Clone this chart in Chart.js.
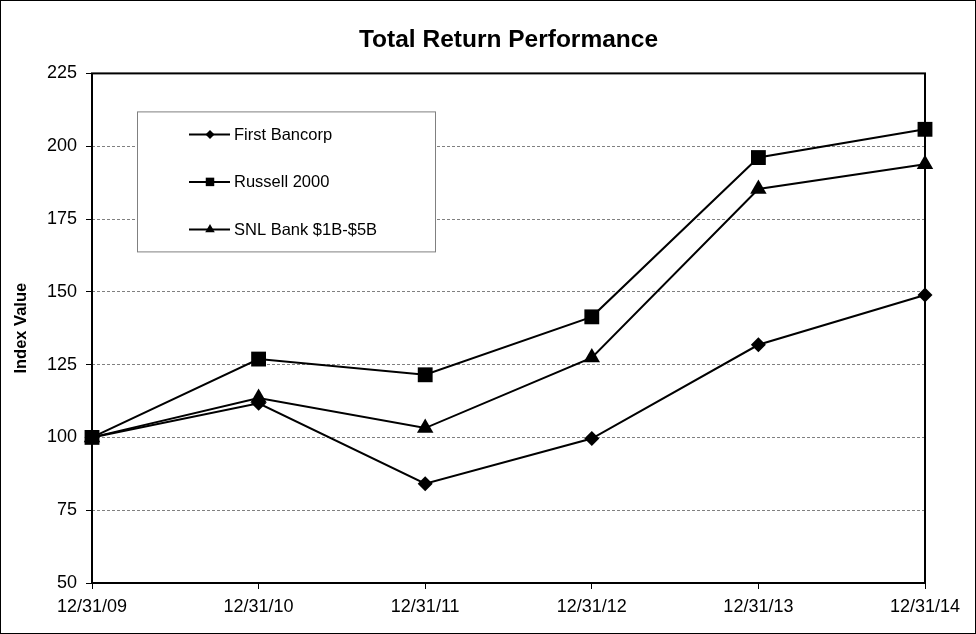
<!DOCTYPE html>
<html>
<head>
<meta charset="utf-8">
<script src="https://cdn.jsdelivr.net/npm/chart.js@4/dist/chart.umd.min.js"></script>
<style>
  html, body { margin: 0; padding: 0; background: #fff; }
  canvas { display: block; }
</style>
</head>
<body>
<canvas id="c" width="976" height="634"></canvas>
<script>
const categories = ['12/31/09', '12/31/10', '12/31/11', '12/31/12', '12/31/13', '12/31/14'];
const firstBancorp = [100, 111.7, 84.1, 99.6, 131.8, 148.9];
const russell2000 = [100, 126.9, 121.5, 141.4, 196.1, 205.8];
const snlBank = [100, 113.5, 103.2, 127.4, 185.3, 193.8];
const seriesNames = ['First Bancorp', 'Russell 2000', 'SNL Bank $1B-$5B'];
const yMin = 50, yMax = 225, yStep = 25;

const FONT = 'Arial, "Liberation Sans", sans-serif';

function markerPath(ctx, style, x, y, r) {
  ctx.beginPath();
  if (style === 'rectRot') {
    ctx.moveTo(x, y - r); ctx.lineTo(x + r, y); ctx.lineTo(x, y + r); ctx.lineTo(x - r, y);
  } else if (style === 'rect') {
    const h = r * Math.SQRT1_2;
    ctx.rect(x - h, y - h, 2 * h, 2 * h);
  } else if (style === 'triangle') {
    ctx.moveTo(x, y - r);
    ctx.lineTo(x + r * Math.sin(Math.PI / 3), y + r / 2);
    ctx.lineTo(x - r * Math.sin(Math.PI / 3), y + r / 2);
  }
  ctx.closePath();
  ctx.fill();
}

const framePlugin = {
  id: 'frame',
  beforeDraw(chart) {
    const ctx = chart.ctx;
    ctx.save();
    ctx.fillStyle = '#fff';
    ctx.fillRect(0, 0, chart.width, chart.height);
    ctx.restore();
  },
  beforeDatasetsDraw(chart) {
    const ctx = chart.ctx, a = chart.chartArea;
    ctx.save();
    ctx.strokeStyle = '#000';
    ctx.lineWidth = 2;
    ctx.strokeRect(a.left, a.top, a.right - a.left, a.bottom - a.top);
    ctx.restore();
  },
  afterDatasetsDraw(chart) {
    const ctx = chart.ctx, a = chart.chartArea;
    const bx = a.left + 45, by = a.top + 38, bw = 298, bh = 140;
    ctx.save();
    ctx.fillStyle = '#fff';
    ctx.fillRect(bx, by, bw, bh);
    ctx.strokeStyle = '#808080';
    ctx.lineWidth = 1;
    ctx.strokeRect(bx + 0.5, by + 0.5, bw, bh);
    const legendR = [4.5, 6, 5.5];
    chart.data.datasets.forEach((ds, i) => {
      const ry = by + 23 + i * 47.5;
      ctx.strokeStyle = '#000';
      ctx.lineWidth = 2;
      ctx.beginPath();
      ctx.moveTo(bx + 52, ry);
      ctx.lineTo(bx + 93, ry);
      ctx.stroke();
      ctx.fillStyle = '#000';
      markerPath(ctx, ds.pointStyle, bx + 73, ry, legendR[i]);
      ctx.font = '16.5px ' + FONT;
      ctx.textBaseline = 'middle';
      ctx.textAlign = 'left';
      ctx.fillText(ds.label, bx + 97, ry + 1);
    });
    ctx.restore();
  },
  afterDraw(chart) {
    const ctx = chart.ctx;
    ctx.save();
    ctx.strokeStyle = '#000';
    ctx.lineWidth = 1;
    ctx.strokeRect(0.5, 0.5, chart.width - 1, chart.height - 1);
    ctx.restore();
  }
};

function ds(label, data, style, r) {
  return {
    label, data,
    borderColor: '#000', backgroundColor: '#000',
    borderWidth: 2,
    pointStyle: style, pointRadius: r, pointHoverRadius: r,
    pointBackgroundColor: '#000', pointBorderColor: '#000', pointBorderWidth: 0,
    tension: 0, clip: false, fill: false
  };
}

new Chart(document.getElementById('c'), {
  type: 'line',
  data: {
    labels: categories,
    datasets: [
      ds(seriesNames[0], firstBancorp, 'rectRot', 7.5),
      ds(seriesNames[1], russell2000, 'rect', 10.5),
      ds(seriesNames[2], snlBank, 'triangle', 9.5)
    ]
  },
  options: {
    responsive: false,
    animation: false,
    devicePixelRatio: 1,
    layout: { padding: { left: 0, right: 51, top: 0, bottom: 0 } },
    plugins: {
      legend: { display: false },
      tooltip: { enabled: false },
      title: {
        display: true,
        text: 'Total Return Performance',
        color: '#000',
        fullSize: false,
        font: { family: FONT, size: 24.5, weight: 'bold', lineHeight: 1.2 },
        padding: { top: 26, bottom: 18 }
      }
    },
    scales: {
      x: {
        type: 'category',
        offset: false,
        grid: { drawOnChartArea: false, drawTicks: true, tickLength: 6, tickColor: '#000', tickWidth: 1 },
        border: { display: false },
        ticks: { color: '#000', font: { family: FONT, size: 18 }, padding: 7, maxRotation: 0, autoSkip: false },
        afterFit(s) { s.height = 51; }
      },
      y: {
        min: yMin, max: yMax,
        grid: { color: '#808080', lineWidth: 1, drawTicks: true, tickLength: 6, tickColor: '#000', tickWidth: 1 },
        border: { display: false, dash: [3, 2] },
        ticks: { stepSize: yStep, color: '#000', font: { family: FONT, size: 18 }, padding: 9 },
        title: {
          display: true, text: 'Index Value', color: '#000',
          font: { family: FONT, size: 16.5, weight: 'bold', lineHeight: 1.2 },
          padding: { top: 12, bottom: 0 }
        },
        afterFit(s) { s.width = 92; }
      }
    }
  },
  plugins: [framePlugin]
});
</script>
</body>
</html>
